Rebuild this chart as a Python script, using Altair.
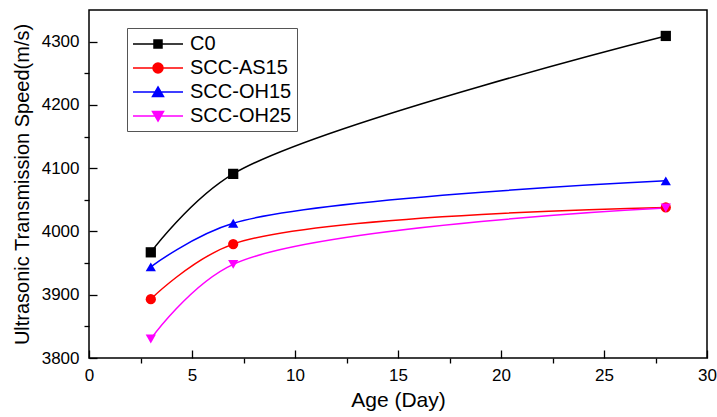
import altair as alt
import pandas as pd

# ---- data ----
days = [3, 7, 28]
series_names = ["C0", "SCC-AS15", "SCC-OH15", "SCC-OH25"]
c0 = [3967, 4091, 4309]
as15 = [3893, 3980, 4038]
oh15 = [3944, 4013, 4080]
oh25 = [3830, 3948, 4037]

x_major = [0, 5, 10, 15, 20, 25, 30]
x_minor = [2.5, 7.5, 12.5, 17.5, 22.5, 27.5]
y_major = [3800, 3900, 4000, 4100, 4200, 4300]
y_minor = [3850, 3950, 4050, 4150, 4250]

# ---- styles ----
colors = ["#000000", "#FF0000", "#0000FF", "#FF00FF"]
marker_shapes = ["square", "circle", "triangle-up", "triangle-down"]
# legend symbols: a line segment with the marker on it
seg = "M-1,0L4,0"
legend_paths = [
    seg + "M1.1,-0.4L1.9,-0.4L1.9,0.4L1.1,0.4Z",
    seg + "M1,0A0.5,0.5,0,1,1,2,0A0.5,0.5,0,1,1,1,0Z",
    seg + "M1.5,-0.5L2.05,0.45L0.95,0.45Z",
    seg + "M1.5,0.5L2.05,-0.45L0.95,-0.45Z",
]
font = "Liberation Sans"

rows = []
for name, vals in zip(series_names, [c0, as15, oh15, oh25]):
    for d, v in zip(days, vals):
        rows.append({"day": d, "speed": v, "series": name})
df = pd.DataFrame(rows)

xs = alt.Scale(domain=[0, 30], nice=False, zero=False)
ys = alt.Scale(domain=[3800, 4350], nice=False, zero=False)
cs = alt.Scale(domain=series_names, range=colors)

x_lab_axis = alt.Axis(orient="bottom", values=x_major, ticks=False, tickSize=0, domain=False,
                      grid=False, labelPadding=9, labelFontSize=17, labelFont=font,
                      labelColor="black", labelFlush=False, labelOverlap=False,
                      title="Age (Day)", titleFontSize=21, titleFont=font,
                      titleFontWeight="normal", titleColor="black", titlePadding=6)
y_lab_axis = alt.Axis(orient="left", values=y_major, format="d", ticks=False, tickSize=0,
                      domain=False, grid=False, labelPadding=10, labelFontSize=17,
                      labelFont=font, labelColor="black", labelOverlap=False,
                      title="Ultrasonic Transmission Speed(m/s)", titleFontSize=20,
                      titleFont=font, titleFontWeight="normal", titleColor="black",
                      titlePadding=9)
x_major_axis = alt.Axis(orient="top", offset=-348, values=x_major, tickSize=8,
                        tickColor="black", tickWidth=1.3, labels=False, domain=False,
                        grid=False, title=None)
y_major_axis = alt.Axis(orient="right", offset=-618, values=y_major, tickSize=8,
                        tickColor="black", tickWidth=1.3, labels=False, domain=False,
                        grid=False, title=None)
x_minor_axis = alt.Axis(orient="bottom", values=x_minor, tickSize=5, tickColor="black",
                        tickWidth=1.3, labels=False, domain=False, grid=False, title=None)
y_minor_axis = alt.Axis(orient="left", values=y_minor, tickSize=5, tickColor="black",
                        tickWidth=1.3, labels=False, domain=False, grid=False, title=None)

base = alt.Chart(df)

lines = base.mark_line(interpolate="catmull-rom", strokeWidth=1.5).encode(
    x=alt.X("day:Q", scale=xs, axis=x_lab_axis),
    y=alt.Y("speed:Q", scale=ys, axis=y_lab_axis),
    color=alt.Color("series:N", scale=cs, legend=None),
)

points = base.mark_point(filled=True, size=105, opacity=1).encode(
    x=alt.X("day:Q", scale=xs, axis=x_major_axis),
    y=alt.Y("speed:Q", scale=ys, axis=y_major_axis),
    color=alt.Color("series:N", scale=cs, legend=None),
    shape=alt.Shape("series:N", scale=alt.Scale(domain=series_names, range=marker_shapes),
                    legend=None),
)

leg = alt.Legend(orient="none", legendX=38, legendY=18, direction="vertical", title=None,
                 fillColor="white", strokeColor="#555555", padding=5,
                 labelFont=font, labelFontSize=20, labelColor="black", labelOffset=36,
                 symbolSize=400, symbolStrokeWidth=1.5, symbolOpacity=1, rowPadding=3)

legend_layer = base.mark_point(filled=True, size=400, opacity=0).encode(
    x=alt.X("day:Q", scale=xs, axis=x_minor_axis),
    y=alt.Y("speed:Q", scale=ys, axis=y_minor_axis),
    fill=alt.Fill("series:N", scale=cs, legend=leg),
    stroke=alt.Stroke("series:N", scale=cs, legend=leg),
    shape=alt.Shape("series:N", scale=alt.Scale(domain=series_names, range=legend_paths),
                    legend=leg),
)

chart = (
    alt.layer(lines, points, legend_layer)
    .resolve_scale(shape="independent", fill="independent", stroke="independent")
    .resolve_axis(x="independent", y="independent")
    .properties(width=618, height=348,
                autosize=alt.AutoSizeParams(type="none"),
                padding={"left": 89, "top": 10, "right": 10, "bottom": 59},
                background="white")
    .configure_view(stroke="black", strokeWidth=1.5)
)

chart.save("out.html", embed_options={"renderer": "svg", "actions": False})
